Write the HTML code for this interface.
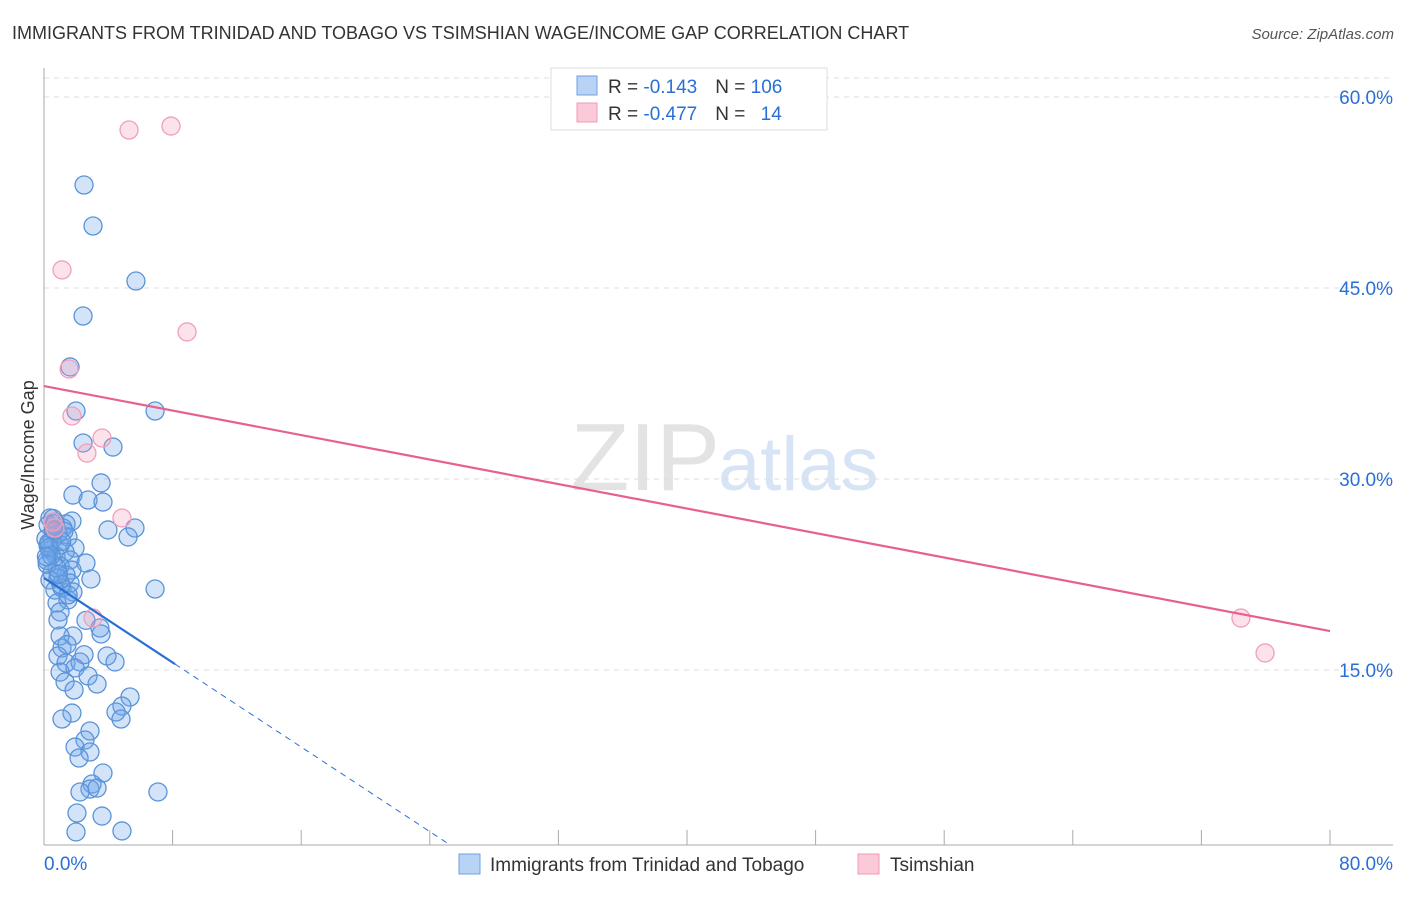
<!DOCTYPE html>
<html><head><meta charset="utf-8"><style>
body{margin:0;background:#fff;font-family:"Liberation Sans",sans-serif}
svg text{font-family:"Liberation Sans",sans-serif}
</style></head><body>
<svg id="c" width="1406" height="892">
<text x="12" y="39" font-size="18" fill="#333">IMMIGRANTS FROM TRINIDAD AND TOBAGO VS TSIMSHIAN WAGE/INCOME GAP CORRELATION CHART</text>
<text x="1394" y="39" font-size="15" fill="#555" font-style="italic" text-anchor="end">Source: ZipAtlas.com</text>
<text x="720" y="490" font-size="96" fill="#e3e3e3" text-anchor="end" font-family="Liberation Serif">ZIP</text>
<text x="718" y="490" font-size="76" fill="#d6e4f5">atlas</text>
<text transform="translate(34,455) rotate(-90)" font-size="18" fill="#333" text-anchor="middle">Wage/Income Gap</text>
<g id="grid"></g><g id="marks"></g>
<g>
<rect x="551" y="68" width="276" height="62" fill="#fff" stroke="#ddd"/>
<rect x="577" y="76" width="20" height="19" fill="#b8d3f5" stroke="#6fa0e0"/>
<rect x="577" y="103" width="20" height="19" fill="#fbcad8" stroke="#f09ab4"/>
<text x="608" y="93" font-size="19" fill="#333">R = <tspan fill="#2a6fd6">-0.143</tspan><tspan dx="18">N = </tspan><tspan fill="#2a6fd6">106</tspan></text>
<text x="608" y="120" font-size="19" fill="#333">R = <tspan fill="#2a6fd6">-0.477</tspan><tspan dx="18">N = </tspan><tspan fill="#2a6fd6" dx="10">14</tspan></text>
</g>
<g>
<rect x="459" y="854" width="21" height="20" fill="#b8d3f5" stroke="#6fa0e0"/>
<text x="490" y="871" font-size="19" fill="#333">Immigrants from Trinidad and Tobago</text>
<rect x="858" y="854" width="21" height="20" fill="#fbcad8" stroke="#f09ab4"/>
<text x="890" y="871" font-size="19" fill="#333">Tsimshian</text>
</g>
</svg>
<script>
const yTicks=[15,30,45,60];
const xTickLabels=["0.0%","80.0%"];
const blueX=[2.49,3.05,5.72,2.43,1.62,6.91,1.99,2.43,4.29,3.55,1.80,2.74,3.67,1.74,0.68,1.37,0.37,0.25,1.18,3.98,5.66,1.49,5.23,0.50,1.00,1.93,0.37,1.31,0.75,1.62,2.61,1.00,1.74,0.50,1.37,2.92,0.87,0.37,1.62,1.12,0.68,1.80,1.49,0.81,6.91,1.00,0.87,3.48,3.55,1.80,1.00,1.12,3.92,0.87,4.42,1.37,2.24,1.93,1.00,2.74,3.30,1.31,1.87,5.35,4.85,4.48,1.74,1.12,4.79,2.86,2.55,1.93,2.86,2.18,3.67,2.99,2.86,3.30,2.24,7.09,2.05,3.61,1.99,4.85,0.70,0.87,0.19,0.56,1.24,0.81,0.25,1.06,1.43,0.12,0.62,2.49,2.61,0.3,0.45,0.2,0.9,1.5,0.3,0.6,1.1,0.15];
const blueY=[53.09,49.87,45.55,42.80,38.80,35.34,35.34,32.83,32.51,29.69,28.74,28.35,28.19,26.70,26.62,26.47,26.94,26.39,26.15,26.00,26.15,25.45,25.45,25.21,24.82,24.58,24.42,24.27,23.95,23.64,23.40,23.17,22.85,22.62,22.46,22.15,22.23,22.07,21.83,21.44,21.28,21.13,20.50,20.26,21.36,19.56,18.93,18.30,17.83,17.67,17.67,16.73,16.10,16.10,15.63,15.55,15.63,15.16,14.84,14.53,13.90,14.06,13.43,12.88,12.17,11.70,11.62,11.15,11.15,10.21,9.50,8.95,8.56,8.09,6.91,6.05,5.65,5.73,5.42,5.42,3.77,3.53,2.28,2.36,26.5,25.7,23.6,26.9,25.9,23.0,24.8,21.7,17.0,25.3,25.9,16.2,18.9,25.0,24.0,23.3,22.5,20.9,24.6,26.0,25.1,23.9];
const pinkX=[5.29,7.90,1.12,8.90,1.56,1.74,3.61,2.67,4.85,0.56,3.05,74.46,75.96,0.68];
const pinkY=[57.41,57.72,46.42,41.55,38.64,34.95,33.22,32.04,26.94,26.62,19.08,19.08,16.34,26.15];
const pinkLine=[37.3,18.06];
const blueLine=[22.23,-0.83,8.15];
const sx=v=>44+v*16.075, sy=v=>861-v*12.733;
const NS="http://www.w3.org/2000/svg";
function mk(t,a,p){const e=document.createElementNS(NS,t);for(const k in a)e.setAttribute(k,a[k]);p.appendChild(e);return e;}
const g=document.getElementById('grid'), m=document.getElementById('marks');
yTicks.forEach(v=>{
 const l=mk('line',{x1:44,x2:1393,y1:sy(v),y2:sy(v),stroke:'#ddd','stroke-dasharray':'5,5'},g);
 
 
 const t=mk('text',{x:1393,y:sy(v)+7,'font-size':19,fill:'#2a6fd6','text-anchor':'end'},g);
 t.textContent=v.toFixed(1)+'%';
 
 
});
mk('line',{x1:44,x2:1393,y1:78,y2:78,stroke:'#ddd','stroke-dasharray':'5,5'},g);
mk('line',{x1:44,x2:44,y1:68,y2:845,stroke:'#aaa'},g);
mk('line',{x1:44,x2:1393,y1:845,y2:845,stroke:'#aaa'},g);
for(let i=1;i<=10;i++){const l=mk('line',{x1:sx(i*8),x2:sx(i*8),y1:830,y2:845,stroke:'#aaa'},g);
 
 }
[[0,'start',44],[1,'end',1393]].forEach(([i,a,x])=>{const t=mk('text',{x:x,y:870,'font-size':19,fill:'#2a6fd6','text-anchor':a},g);t.textContent=xTickLabels[i];
 
 });
blueX.forEach((x,i)=>{const c=mk('circle',{cx:sx(x),cy:sy(blueY[i]),r:9,fill:'rgba(110,165,235,0.3)',stroke:'#5b93d8','stroke-width':1.3},m);
 
 });
pinkX.forEach((x,i)=>{const c=mk('circle',{cx:sx(x),cy:sy(pinkY[i]),r:9,fill:'rgba(245,160,185,0.3)',stroke:'#f0a0b8','stroke-width':1.3},m);
 
 });
let l=mk('line',{x1:sx(0),y1:sy(pinkLine[0]),x2:sx(80),y2:sy(pinkLine[1]),stroke:'#e8608f','stroke-width':2.2},m);


const bx2=blueLine[2], bxEnd=(blueLine[0]-1.26)/-blueLine[1];
l=mk('line',{x1:sx(0),y1:sy(blueLine[0]),x2:sx(bx2),y2:sy(blueLine[0]+blueLine[1]*bx2),stroke:'#2a6fd6','stroke-width':2.2},m);


l=mk('line',{x1:sx(bx2),y1:sy(blueLine[0]+blueLine[1]*bx2),x2:sx(bxEnd),y2:sy(1.26),stroke:'#2a6fd6','stroke-width':1,'stroke-dasharray':'6,5'},m);


</script>
</body></html>
